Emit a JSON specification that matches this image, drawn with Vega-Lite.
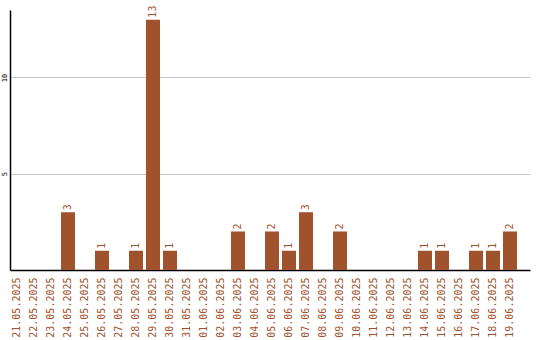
{
  "$schema": "https://vega.github.io/schema/vega-lite/v6.json",
  "autosize": "none",
  "width": 520,
  "height": 260,
  "padding": {"left": 10, "top": 10, "right": 10, "bottom": 70},
  "background": "white",
  "config": {"view": {"stroke": null}, "font": "DejaVu Sans Mono"},
  "data": {"values": [
    {"date": "21.05.2025", "count": 0},
    {"date": "22.05.2025", "count": 0},
    {"date": "23.05.2025", "count": 0},
    {"date": "24.05.2025", "count": 3},
    {"date": "25.05.2025", "count": 0},
    {"date": "26.05.2025", "count": 1},
    {"date": "27.05.2025", "count": 0},
    {"date": "28.05.2025", "count": 1},
    {"date": "29.05.2025", "count": 13},
    {"date": "30.05.2025", "count": 1},
    {"date": "31.05.2025", "count": 0},
    {"date": "01.06.2025", "count": 0},
    {"date": "02.06.2025", "count": 0},
    {"date": "03.06.2025", "count": 2},
    {"date": "04.06.2025", "count": 0},
    {"date": "05.06.2025", "count": 2},
    {"date": "06.06.2025", "count": 1},
    {"date": "07.06.2025", "count": 3},
    {"date": "08.06.2025", "count": 0},
    {"date": "09.06.2025", "count": 2},
    {"date": "10.06.2025", "count": 0},
    {"date": "11.06.2025", "count": 0},
    {"date": "12.06.2025", "count": 0},
    {"date": "13.06.2025", "count": 0},
    {"date": "14.06.2025", "count": 1},
    {"date": "15.06.2025", "count": 1},
    {"date": "16.06.2025", "count": 0},
    {"date": "17.06.2025", "count": 1},
    {"date": "18.06.2025", "count": 1},
    {"date": "19.06.2025", "count": 2}
  ]},
  "encoding": {
    "x": {
      "field": "date", "type": "ordinal", "sort": null,
      "scale": {"paddingInner": 0.176, "paddingOuter": 0.382, "align": 0},
      "axis": {
        "title": null, "labelAngle": -90, "labelColor": "#A0522D", "labelFontSize": 10,
        "labelFont": "DejaVu Sans Mono", "ticks": false, "labelPadding": 7,
        "domainColor": "black", "domainWidth": 1.5, "grid": false
      }
    },
    "y": {
      "field": "count", "type": "quantitative",
      "scale": {"domain": [0, 13.5], "nice": false},
      "axis": {
        "title": null, "values": [5, 10], "labelAngle": -90, "labelFontSize": 7,
        "labelColor": "black", "labelFont": "DejaVu Sans Mono", "ticks": false, "labelPadding": 3,
        "domainColor": "black", "domainWidth": 1.5, "gridColor": "#c8c8c8", "gridWidth": 1
      }
    }
  },
  "layer": [
    {"mark": {"type": "bar", "color": "#A0522D"}},
    {
      "transform": [{"filter": "datum.count > 0"}],
      "mark": {"type": "text", "angle": 270, "align": "left", "baseline": "middle", "dx": 2, "color": "#A0522D", "fontSize": 10, "font": "DejaVu Sans Mono"},
      "encoding": {"text": {"field": "count", "type": "quantitative"}}
    }
  ]
}
